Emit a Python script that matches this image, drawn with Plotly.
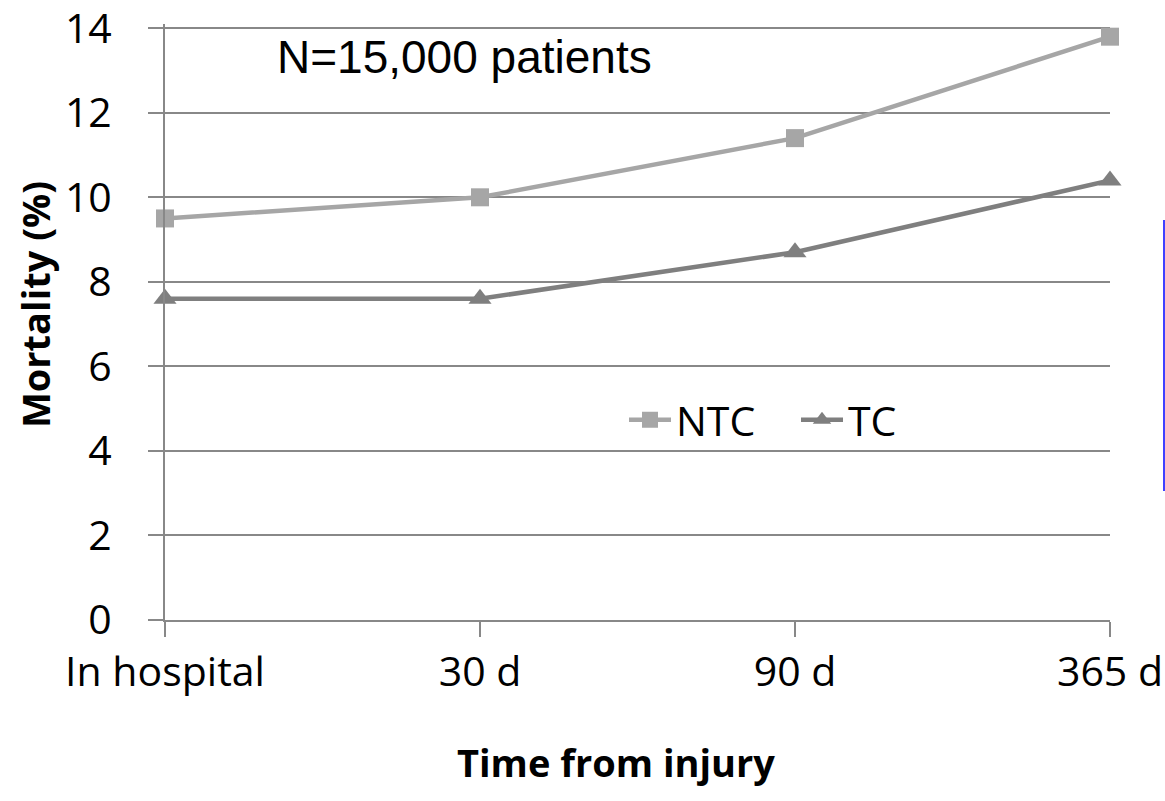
import plotly.graph_objects as go

# Time points after injury and mortality (%) per group
time_points = ["In hospital", "30 d", "90 d", "365 d"]
ntc_mortality = [9.5, 10.0, 11.4, 13.8]
tc_mortality = [7.6, 7.6, 8.7, 10.4]
y_ticks = [0, 2, 4, 6, 8, 10, 12, 14]

x_pos = list(range(len(time_points)))

GRID = "#888888"
FONT = "Open Sans"

W, H = 1165, 801
ML, MR, MT, MB = 165, 55, 24, 181
plot_w = W - ML - MR
plot_h = H - MT - MB
Y_MAX = 14.1


def px_x(px):
    return (px - ML) / plot_w


def px_y(py):
    return (H - MB - py) / plot_h


fig = go.Figure()
fig.add_trace(go.Scatter(
    x=x_pos, y=ntc_mortality, name="NTC", mode="lines+markers",
    line=dict(color="#A6A6A6", width=4.5),
    marker=dict(symbol="square", size=18, color="#A6A6A6"),
    cliponaxis=False,
))
fig.add_trace(go.Scatter(
    x=x_pos, y=tc_mortality, name="TC", mode="lines+markers",
    line=dict(color="#7F7F7F", width=4.5),
    marker=dict(symbol="triangle-up", size=20, color="#7F7F7F"),
    cliponaxis=False,
))

fig.update_layout(
    width=W, height=H,
    margin=dict(l=ML, r=MR, t=MT, b=MB, autoexpand=False),
    paper_bgcolor="white", plot_bgcolor="white",
    font=dict(family=FONT, size=41, color="black"),
    showlegend=True,
    legend=dict(
        orientation="h", x=px_x(624), y=px_y(420), xanchor="left", yanchor="middle",
        bgcolor="rgba(0,0,0,0)", font=dict(size=41),
        itemwidth=42, entrywidth=115, entrywidthmode="pixels", tracegroupgap=0,
    ),
    xaxis=dict(
        range=[0, 3], tickmode="array", tickvals=x_pos, ticktext=time_points,
        showgrid=False, zeroline=False, automargin=False,
        showline=True, linecolor=GRID, linewidth=2,
        ticks="outside", ticklen=15, tickwidth=2, tickcolor=GRID,
        tickfont=dict(family=FONT, size=41), ticklabeloverflow="allow",
    ),
    yaxis=dict(
        range=[0, Y_MAX], tickmode="array", tickvals=y_ticks,
        showgrid=True, gridcolor=GRID, gridwidth=2, zeroline=False, automargin=False,
        showline=True, linecolor=GRID, linewidth=2,
        ticks="outside", ticklen=15, tickwidth=2, tickcolor=GRID,
        ticklabelstandoff=28, ticklabeloverflow="allow",
        tickfont=dict(family=FONT, size=41),
    ),
    annotations=[
        dict(text="N=15,000 patients", x=px_x(275), y=px_y(57), xref="paper", yref="paper",
             showarrow=False, font=dict(family="Liberation Sans", size=46),
             xanchor="left", yanchor="middle"),
        dict(text="<b>Time from injury</b>", x=px_x(616), y=px_y(762), xref="paper", yref="paper",
             showarrow=False, font=dict(family=FONT, size=38),
             xanchor="center", yanchor="middle"),
        dict(text="<b>Mortality (%)</b>", x=px_x(35), y=px_y(305), xref="paper", yref="paper",
             showarrow=False, textangle=-90, font=dict(family=FONT, size=38),
             xanchor="center", yanchor="middle"),
    ],
)

# Thin blue vertical rule at the right edge
fig.add_shape(type="line", xref="paper", yref="paper",
              x0=px_x(1164), x1=px_x(1164),
              y0=px_y(491), y1=px_y(220),
              line=dict(color="#0000FF", width=1.5))

fig.write_html("out.html")
